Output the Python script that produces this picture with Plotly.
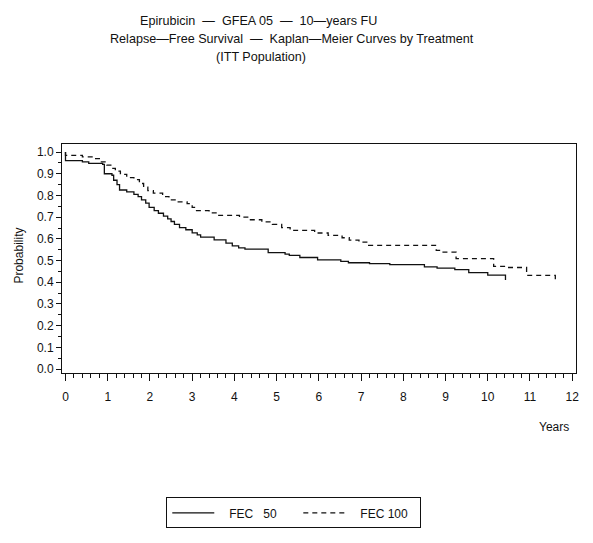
import plotly.graph_objects as go

# ---- data ----
fec50_t = [0, 0, 0.40, 0.55, 0.88, 0.92, 1.10, 1.14, 1.22, 1.28, 1.45, 1.62, 1.72, 1.80, 1.90,
           1.98, 2.10, 2.20, 2.32, 2.42, 2.50, 2.58, 2.70, 2.85, 3.00, 3.12, 3.20, 3.52,
           3.80, 3.95, 4.10, 4.25, 4.80, 5.20, 5.30, 5.55, 5.97, 6.52, 6.70, 7.20, 7.68,
           8.50, 8.80, 9.22, 9.55, 10.00, 10.42]
fec50_s = [1.0, 0.960, 0.955, 0.948, 0.943, 0.900, 0.893, 0.870, 0.850, 0.825, 0.816, 0.805,
           0.795, 0.780, 0.765, 0.745, 0.730, 0.718, 0.705, 0.692, 0.680, 0.667, 0.652,
           0.642, 0.628, 0.618, 0.608, 0.595, 0.580, 0.568, 0.558, 0.553, 0.537, 0.530,
           0.524, 0.514, 0.503, 0.496, 0.490, 0.486, 0.481, 0.471, 0.465, 0.458, 0.444,
           0.433, 0.410]

fec100_t = [0, 0, 0.40, 0.68, 0.83, 0.98, 1.10, 1.18, 1.30, 1.45, 1.62, 1.75, 1.85, 1.95,
            2.08, 2.30, 2.45, 2.62, 2.88, 3.00, 3.08, 3.40, 3.60, 4.12, 4.35, 4.65, 4.90,
            5.12, 5.32, 5.90, 6.22, 6.55, 6.72, 6.95, 7.18, 8.78, 8.92, 9.25, 10.14, 10.45,
            10.92, 11.60]
fec100_s = [1.0, 0.985, 0.978, 0.970, 0.955, 0.940, 0.925, 0.912, 0.897, 0.882, 0.873, 0.855,
            0.838, 0.822, 0.811, 0.795, 0.780, 0.770, 0.762, 0.745, 0.730, 0.720, 0.708,
            0.700, 0.688, 0.678, 0.667, 0.652, 0.639, 0.627, 0.616, 0.605, 0.594, 0.585,
            0.570, 0.547, 0.539, 0.509, 0.473, 0.468, 0.432, 0.395]

x_ticks = list(range(0, 13))
y_ticks = [round(0.1 * i, 1) for i in range(11)]

title_lines = ["Epirubicin  —  GFEA 05  —  10—years FU",
               "Relapse—Free Survival  —  Kaplan—Meier Curves by Treatment",
               "(ITT Population)"]

FONT = "Liberation Sans, Arial, sans-serif"
NB = "\u00a0"
OFF = 8  # default page body margin

fig = go.Figure()
fig.add_trace(go.Scatter(x=fec50_t, y=fec50_s, mode="lines", line_shape="hv",
                         line=dict(color="#111111", width=1.3),
                         name=NB * 3 + "FEC" + NB * 3 + "50" + NB * 5))
fig.add_trace(go.Scatter(x=fec100_t, y=fec100_s, mode="lines", line_shape="hv",
                         line=dict(color="#111111", width=1.3, dash="5px,4px"),
                         name=NB * 3 + "FEC" + NB + "100" + NB * 2))

W, H = 593 - OFF, 543 - OFF
L, R, T, B = 61.5 - OFF, 576 - OFF, 143.5 - OFF, 373.5 - OFF


def px(xp):
    return (xp - OFF - L) / (R - L)


def py(yp):
    return (B - (yp - OFF)) / (B - T)


annots = []
for txt, cx, cy in zip(title_lines, [258, 292, 261], [20, 38.5, 56]):
    annots.append(dict(text=txt.replace("  ", NB * 2), x=px(cx), y=py(cy), xref="paper",
                       yref="paper", showarrow=False, xanchor="center", yanchor="middle",
                       font=dict(size=12.6, color="#111111", family=FONT)))
annots.append(dict(text="Probability", x=px(18), y=py(256), xref="paper", yref="paper",
                   showarrow=False, textangle=-90, xanchor="center", yanchor="middle",
                   font=dict(size=12, color="#111111", family=FONT)))
annots.append(dict(text="Years", x=px(554), y=py(428), xref="paper", yref="paper",
                   showarrow=False, xanchor="center", yanchor="middle",
                   font=dict(size=12, color="#111111", family=FONT)))

fig.update_layout(
    width=W, height=H,
    margin=dict(l=L, r=W - R, t=T, b=H - B, pad=0),
    paper_bgcolor="white", plot_bgcolor="white",
    font=dict(family=FONT, size=12, color="#111111"),
    annotations=annots,
    showlegend=True,
    legend=dict(orientation="h", x=px(293.5), y=py(514), xanchor="center", yanchor="middle",
                bordercolor="#111111", borderwidth=1, bgcolor="white",
                font=dict(size=12, family=FONT, color="#111111"),
                itemwidth=42, tracegroupgap=0),
)

fig.update_xaxes(range=[-0.083, 12.09], tickvals=x_ticks, ticktext=[str(v) for v in x_ticks],
                 showgrid=False, zeroline=False, showline=True, linecolor="#111111",
                 linewidth=1, mirror=True, ticks="outside", ticklen=7, tickcolor="#111111",
                 ticklabelstandoff=6,
                 minor=dict(dtick=0.2, tick0=0, ticks="outside", ticklen=4,
                            tickcolor="#111111", showgrid=False),
                 tickfont=dict(size=12))
fig.update_yaxes(range=[-0.018, 1.037], tickvals=y_ticks,
                 ticktext=["%.1f" % v for v in y_ticks],
                 showgrid=False, zeroline=False, showline=True, linecolor="#111111",
                 linewidth=1, mirror=True, ticks="outside", ticklen=5, tickcolor="#111111",
                 minor=dict(dtick=0.05, tick0=0, ticks="outside", ticklen=3,
                            tickcolor="#111111", showgrid=False),
                 tickfont=dict(size=12))

fig.write_html("out.html")
